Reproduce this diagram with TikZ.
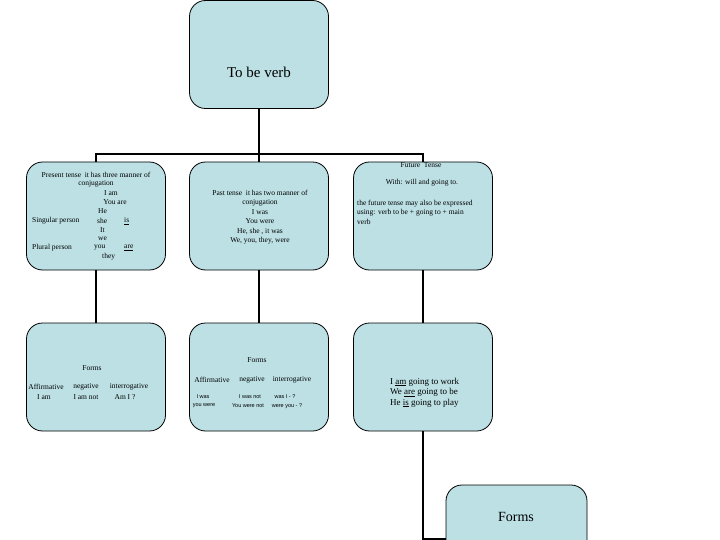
\documentclass[tikz,border=0pt]{standalone}
\usepackage{fontspec}
\setmainfont{Liberation Serif}
\setsansfont{Liberation Sans}
\usetikzlibrary{positioning}
\definecolor{boxblue}{RGB}{188,224,228}

\tikzset{
  tbox/.style={draw=black, line width=0.8pt, fill=boxblue, rounded corners=16pt,
    minimum width=139pt, minimum height=108pt, inner sep=0pt},
  link/.style={black, line width=2.6pt},
  small/.style={font=\fontsize{7.5}{9.5}\selectfont, inner sep=0pt},
  tiny/.style={font=\sffamily\fontsize{5.5}{6.5}\selectfont, inner sep=0pt},
}

\begin{document}
\begin{tikzpicture}[x=1pt, y=-1pt]
            \useasboundingbox (0,0) rectangle (720,540);

            % boxes
            \node[tbox] (tobe) at (259,54.5) {};
            \node[tbox] (present) at (96,216) {};
            \node[tbox] (past) at (259,216) {};
            \node[tbox] (future) at (423,216) {};
            \node[tbox] (presforms) at (96,377) {};
            \node[tbox] (pastforms) at (259,377) {};
            \node[tbox] (futex) at (423,377) {};
            \node[tbox, minimum width=141pt] (futforms) at (516.5,539) {};

            % connectors
            \draw[link] (tobe.south) -- ++(0,45) coordinate (bus);
            \draw[link] (present.north) |- (bus) -| (future.north);
            \draw[link] (bus) -- (past.north);
            \draw[link] (present.south) -- (presforms.north);
            \draw[link] (past.south) -- (pastforms.north);
            \draw[link] (future.south) -- (futex.north);
            \draw[link] (futex.south) |- (futforms.west);

            % top
            \node[font=\fontsize{15}{18}\selectfont] (tobetxt) at (259,72) {To be verb};

            % present tense
            \node[small] (pres1) at (96,175) {Present tense\ \ it has three manner of};
            \node[small] (pres2) at (96,184) {conjugation};
            \node[small] (pres3) at (111,193) {I am};
            \node[small] (pres4) at (115,202) {You are};
            \node[small, anchor=west] (pres5) at (98,211) {He};
            \node[small, anchor=west] (sing) at (32,221) {Singular person};
            \node[small, anchor=west] (pres6) at (97,221) {she};
            \node[small, anchor=west] (pres7) at (124,221) {\underline{is}};
            \node[small, anchor=west] (pres8) at (100,230) {It};
            \node[small, anchor=west] (pres9) at (98,239) {we};
            \node[small, anchor=west] (plur) at (32,248) {Plural person};
            \node[small, anchor=west] (pres10) at (94,248) {you};
            \node[small, anchor=west] (pres11) at (124,248) {\underline{are}};
            \node[small, anchor=west] (pres12) at (102,257) {they};

            % past tense
            \node[small, align=center] (pasttxt) at (260,217) {Past tense\ \ it has two manner of\\ conjugation\\ I was\\ You were\\ He, she , it was\\ We, you, they, were};

            % future tense
            \node[small] (fut1) at (421,165) {Future\ \ Tense};
            \node[small] (fut2) at (422,183) {With: will and going to.};
            \node[small, align=left, anchor=north west] (fut3) at (357,200) {the future tense may also be expressed\\ using: verb to be + going to + main\\ verb};

            % present forms
            \node[small] (pf1) at (92,368) {Forms};
            \node[small] (pf2) at (46,387) {Affirmative};
            \node[small] (pf3) at (86,387) {negative};
            \node[small] (pf4) at (129,387) {interrogative};
            \node[small] (pf5) at (44,397) {I am};
            \node[small] (pf6) at (86,397) {I am not};
            \node[small] (pf7) at (125,397) {Am I ?};

            % past forms
            \node[small] (sf1) at (257,360) {Forms};
            \node[small] (sf2) at (212,380) {Affirmative};
            \node[small] (sf3) at (252,380) {negative};
            \node[small] (sf4) at (292,380) {interrogative};
\tikzset{every node/.append style={tiny}}
            \node (sf5) at (203,397) {I was};
            \node (sf6) at (250,397) {I was not};
            \node (sf7) at (285,397) {was I - ?};
            \node (sf8) at (204,406) {you were};
            \node (sf9) at (248,406) {You were not};
            \node (sf10) at (287,406) {were you - ?};
\tikzset{every node/.style={}}

            % future examples
            \node[font=\fontsize{9}{10.5}\selectfont, inner sep=0pt, align=left, anchor=west] (futtxt) at (390,392.5) {I \underline{am} going to work\\ We \underline{are} going to be\\ He \underline{is} going to play};

            \node[font=\fontsize{14}{16}\selectfont] (formstxt) at (516,517) {Forms};
\end{tikzpicture}
\end{document}
